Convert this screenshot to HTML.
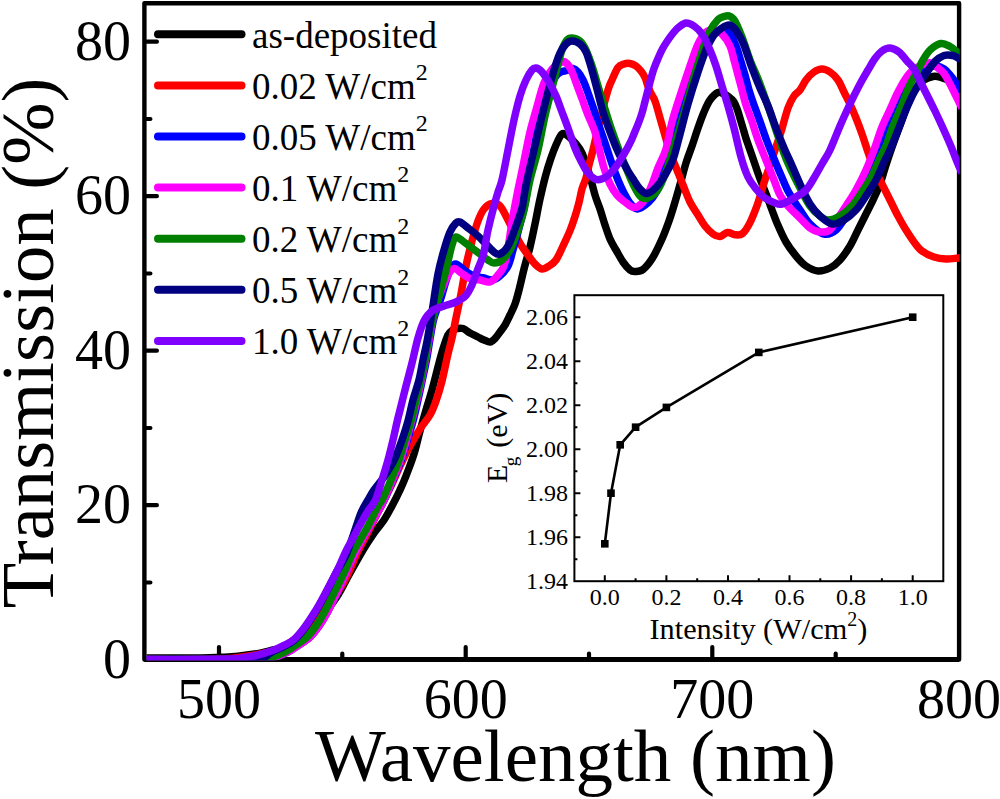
<!DOCTYPE html><html><head><meta charset="utf-8"><style>html,body{margin:0;padding:0;background:#fff;overflow:hidden;}svg{display:block;}</style></head><body>
<svg width="1000" height="799" viewBox="0 0 1000 799">
<rect width="1000" height="799" fill="#fff"/>
<rect x="144.4" y="3.3" width="814.7" height="656.3" fill="none" stroke="#000" stroke-width="4.4" stroke-linejoin="round"/>
<line x1="144.4" y1="659.6" x2="959.1" y2="659.6" stroke="#000" stroke-width="5"/>
<path d="M146.6 582.5H150.4M146.6 505.2H156.9M146.6 428.0H150.4M146.6 350.7H156.9M146.6 273.5H150.4M146.6 196.2H156.9M146.6 119.0H150.4M146.6 41.7H156.9M219.0 657.4V647.1M342.3 657.4V653.6M465.7 657.4V647.1M589.0 657.4V653.6M712.3 657.4V647.1M835.7 657.4V653.6" stroke="#000" stroke-width="4.2" stroke-linecap="round" fill="none"/>
<defs><clipPath id="pc"><rect x="146.6" y="0" width="813.1" height="660.3"/></clipPath></defs>
<g clip-path="url(#pc)">
<path d="M144.0 658.0C153.3 658.0 187.3 658.0 200.0 657.9C212.7 657.8 213.7 657.6 220.0 657.3C226.3 657.0 231.5 656.9 238.0 656.2C244.5 655.6 253.2 654.4 259.0 653.4C264.8 652.4 268.5 651.1 273.0 650.0C277.5 648.9 281.8 648.2 286.0 647.0C290.2 645.8 294.3 644.8 298.0 643.0C301.7 641.2 303.5 641.0 308.0 636.0C312.5 631.0 320.0 619.8 325.0 613.0C330.0 606.2 333.8 601.7 338.0 595.0C342.2 588.3 345.8 580.5 350.0 573.0C354.2 565.5 359.0 556.7 363.0 550.0C367.0 543.3 370.5 538.0 374.0 533.0C377.5 528.0 381.0 524.5 384.0 520.0C387.0 515.5 389.3 511.0 392.0 506.0C394.7 501.0 397.7 495.0 400.0 490.0C402.3 485.0 403.7 482.0 406.0 476.0C408.3 470.0 411.7 461.5 414.0 454.0C416.3 446.5 418.0 438.3 420.0 431.0C422.0 423.7 424.0 416.8 426.0 410.0C428.0 403.2 430.0 397.2 432.0 390.0C434.0 382.8 436.2 373.8 438.0 367.0C439.8 360.2 441.3 354.3 443.0 349.0C444.7 343.7 446.5 338.1 448.0 335.0C449.5 331.9 450.5 331.6 452.0 330.5C453.5 329.4 455.2 328.8 457.0 328.5C458.8 328.2 460.8 327.8 463.0 328.5C465.2 329.2 467.5 331.6 470.0 333.0C472.5 334.4 475.7 335.8 478.0 337.0C480.3 338.2 482.0 339.2 484.0 340.0C486.0 340.8 488.2 342.2 490.0 342.0C491.8 341.8 493.3 340.2 495.0 338.5C496.7 336.8 498.3 334.2 500.0 332.0C501.7 329.8 503.3 327.8 505.0 325.0C506.7 322.2 508.3 318.5 510.0 315.0C511.7 311.5 513.5 308.2 515.0 304.0C516.5 299.8 517.5 295.8 519.0 290.0C520.5 284.2 522.2 276.2 524.0 269.0C525.8 261.8 528.2 254.5 530.0 247.0C531.8 239.5 533.3 232.0 535.0 224.0C536.7 216.0 538.2 207.0 540.0 199.0C541.8 191.0 543.7 182.8 545.5 176.0C547.3 169.2 549.2 163.2 551.0 158.0C552.8 152.8 554.2 149.0 556.0 145.0C557.8 141.0 560.0 135.5 562.0 134.0C564.0 132.5 565.7 134.3 568.0 136.0C570.3 137.7 573.7 141.2 576.0 144.0C578.3 146.8 579.8 148.2 582.0 153.0C584.2 157.8 586.8 166.0 589.0 173.0C591.2 180.0 593.2 189.0 595.0 195.0C596.8 201.0 598.3 204.0 600.0 209.0C601.7 214.0 603.3 220.0 605.0 225.0C606.7 230.0 608.2 234.8 610.0 239.0C611.8 243.2 613.8 246.2 616.0 250.0C618.2 253.8 620.7 258.7 623.0 262.0C625.3 265.3 628.0 268.4 630.0 270.0C632.0 271.6 632.8 271.6 635.0 271.5C637.2 271.4 640.1 271.8 643.0 269.5C645.9 267.2 649.3 263.1 652.5 258.0C655.7 252.9 659.2 245.2 662.0 239.0C664.8 232.8 666.8 227.2 669.0 221.0C671.2 214.8 673.0 208.7 675.0 202.0C677.0 195.3 679.2 187.5 681.0 181.0C682.8 174.5 684.2 168.8 686.0 163.0C687.8 157.2 690.0 151.8 692.0 146.0C694.0 140.2 696.0 133.7 698.0 128.0C700.0 122.3 702.0 116.7 704.0 112.0C706.0 107.3 707.7 103.2 710.0 100.0C712.3 96.8 715.7 93.5 718.0 92.5C720.3 91.5 722.2 93.2 724.0 94.0C725.8 94.8 727.4 95.8 729.0 97.0C730.6 98.2 732.3 99.3 733.7 101.5C735.1 103.7 736.4 106.9 737.5 110.0C738.6 113.1 739.5 116.7 740.5 120.0C741.5 123.3 742.5 126.7 743.5 130.0C744.5 133.3 744.8 135.0 746.5 140.0C748.2 145.0 751.2 153.3 753.5 160.0C755.8 166.7 758.3 174.2 760.5 180.0C762.7 185.8 764.6 190.0 766.5 195.0C768.4 200.0 770.2 205.3 772.0 210.0C773.8 214.7 774.7 217.7 777.0 223.0C779.3 228.3 782.8 236.5 786.0 242.0C789.2 247.5 792.7 252.0 796.0 256.0C799.3 260.0 802.3 263.5 806.0 266.0C809.7 268.5 814.0 270.7 818.0 271.0C822.0 271.3 826.3 269.8 830.0 268.0C833.7 266.2 836.7 263.7 840.0 260.0C843.3 256.3 847.0 251.0 850.0 246.0C853.0 241.0 855.3 235.3 858.0 230.0C860.7 224.7 863.3 219.3 866.0 214.0C868.7 208.7 871.7 203.0 874.0 198.0C876.3 193.0 878.2 189.0 880.0 184.0C881.8 179.0 883.2 173.7 885.0 168.0C886.8 162.3 888.7 156.7 891.0 150.0C893.3 143.3 896.3 135.3 899.0 128.0C901.7 120.7 904.3 112.3 907.0 106.0C909.7 99.7 912.2 94.3 915.0 90.0C917.8 85.7 921.0 82.2 924.0 80.0C927.0 77.8 930.3 77.0 933.0 76.5C935.7 76.0 937.5 76.4 940.0 77.0C942.5 77.6 945.0 78.7 948.0 80.0C951.0 81.3 955.7 83.8 958.0 85.0C960.3 86.2 961.3 86.7 962.0 87.0" fill="none" stroke="#000000" stroke-width="7.5" stroke-linejoin="round" stroke-linecap="butt"/>
<path d="M144.0 659.6C153.3 659.6 186.5 659.7 200.0 659.6C213.5 659.5 218.3 659.2 225.0 658.8C231.7 658.4 235.5 657.8 240.0 657.3C244.5 656.8 247.8 656.2 252.0 655.5C256.2 654.8 260.3 654.2 265.0 653.0C269.7 651.8 275.0 650.8 280.0 648.5C285.0 646.2 290.0 643.1 295.0 639.0C300.0 634.9 305.3 629.2 310.0 624.0C314.7 618.8 318.8 612.7 323.0 608.0C327.2 603.3 331.2 601.0 335.0 596.0C338.8 591.0 342.2 585.3 346.0 578.0C349.8 570.7 354.3 559.0 357.6 552.0C360.9 545.0 363.6 540.7 366.0 536.0C368.4 531.3 369.3 529.3 372.0 524.0C374.7 518.7 378.7 510.7 382.0 504.0C385.3 497.3 388.8 490.7 392.0 484.0C395.2 477.3 398.0 470.3 401.0 464.0C404.0 457.7 406.8 451.8 410.0 446.0C413.2 440.2 416.7 434.2 420.0 429.0C423.3 423.8 427.3 419.7 430.0 415.0C432.7 410.3 434.0 406.7 436.0 401.0C438.0 395.3 440.0 388.8 442.0 381.0C444.0 373.2 446.3 361.2 448.0 354.0C449.7 346.8 450.7 344.0 452.0 338.0C453.3 332.0 454.5 325.3 456.0 318.0C457.5 310.7 459.3 302.7 461.0 294.0C462.7 285.3 464.2 274.8 466.0 266.0C467.8 257.2 470.0 248.5 472.0 241.0C474.0 233.5 476.0 226.3 478.0 221.0C480.0 215.7 481.7 211.9 484.0 209.0C486.3 206.1 489.3 204.0 492.0 203.5C494.7 203.0 497.5 203.6 500.0 206.0C502.5 208.4 504.7 213.7 507.0 218.0C509.3 222.3 511.7 227.5 514.0 232.0C516.3 236.5 518.7 241.2 521.0 245.0C523.3 248.8 525.7 251.8 528.0 255.0C530.3 258.2 532.7 261.7 535.0 264.0C537.3 266.3 539.7 268.7 542.0 269.0C544.3 269.3 546.7 267.5 549.0 266.0C551.3 264.5 553.7 263.3 556.0 260.0C558.3 256.7 560.7 250.9 563.0 246.0C565.3 241.1 568.0 235.5 570.0 230.6C572.0 225.7 573.5 221.2 575.0 216.5C576.5 211.8 577.8 207.1 579.0 202.5C580.2 197.9 580.8 193.1 582.0 189.0C583.2 184.9 584.8 182.0 586.0 178.0C587.2 174.0 587.8 169.7 589.0 165.0C590.2 160.3 591.2 157.5 593.0 150.0C594.8 142.5 597.5 130.0 600.0 120.0C602.5 110.0 606.0 96.7 608.0 90.0C610.0 83.3 610.3 83.8 612.0 80.0C613.7 76.2 616.0 70.2 618.0 67.5C620.0 64.8 622.0 64.7 624.0 64.0C626.0 63.3 628.0 63.2 630.0 63.5C632.0 63.8 634.2 64.8 636.0 66.0C637.8 67.2 639.5 69.1 641.0 71.0C642.5 72.9 643.9 75.2 645.0 77.5C646.1 79.8 646.6 82.5 647.5 85.0C648.4 87.5 649.2 89.8 650.5 92.5C651.8 95.2 653.4 96.8 655.0 101.0C656.6 105.2 658.2 111.7 660.0 118.0C661.8 124.3 664.2 132.8 666.0 139.0C667.8 145.2 669.2 149.8 671.0 155.0C672.8 160.2 675.0 165.0 677.0 170.0C679.0 175.0 680.8 179.7 683.0 185.0C685.2 190.3 687.5 197.0 690.0 202.0C692.5 207.0 695.5 211.0 698.0 215.0C700.5 219.0 702.5 222.8 705.0 226.0C707.5 229.2 710.5 232.2 713.0 234.0C715.5 235.8 717.6 236.8 720.0 236.6C722.4 236.3 725.1 232.8 727.6 232.5C730.1 232.2 732.5 234.5 735.0 234.7C737.5 234.9 740.1 235.5 742.6 233.5C745.1 231.5 747.5 227.5 750.0 222.6C752.5 217.7 755.4 210.1 757.6 204.0C759.8 197.9 761.1 192.0 763.0 186.0C764.9 180.0 767.0 174.0 769.0 168.0C771.0 162.0 773.0 156.0 775.0 150.0C777.0 144.0 778.8 139.0 781.0 132.0C783.2 125.0 785.8 114.0 788.0 108.0C790.2 102.0 792.0 99.0 794.0 96.0C796.0 93.0 798.0 92.7 800.0 90.0C802.0 87.3 803.7 83.0 806.0 80.0C808.3 77.0 811.3 73.8 814.0 72.0C816.7 70.2 819.3 69.0 822.0 69.0C824.7 69.0 827.3 70.2 830.0 72.0C832.7 73.8 835.7 76.7 838.0 80.0C840.3 83.3 842.0 88.0 844.0 92.0C846.0 96.0 848.0 99.7 850.0 104.0C852.0 108.3 854.0 113.0 856.0 118.0C858.0 123.0 860.0 128.3 862.0 134.0C864.0 139.7 866.0 146.3 868.0 152.0C870.0 157.7 871.7 162.7 874.0 168.0C876.3 173.3 879.3 178.7 882.0 184.0C884.7 189.3 887.3 194.7 890.0 200.0C892.7 205.3 895.3 211.0 898.0 216.0C900.7 221.0 903.3 225.7 906.0 230.0C908.7 234.3 911.3 238.5 914.0 242.0C916.7 245.5 918.7 248.5 922.0 251.0C925.3 253.5 930.0 255.7 934.0 257.0C938.0 258.3 942.0 258.8 946.0 259.0C950.0 259.2 955.3 258.2 958.0 258.0C960.7 257.8 961.3 257.8 962.0 257.7" fill="none" stroke="#ff0000" stroke-width="7.5" stroke-linejoin="round" stroke-linecap="butt"/>
<path d="M144.0 659.6C161.7 659.6 230.0 659.6 250.0 659.5C270.0 659.4 260.0 659.3 264.0 659.0C268.0 658.7 270.0 658.7 274.0 657.5C278.0 656.3 283.8 654.1 288.0 652.0C292.2 649.9 295.3 647.5 299.0 645.0C302.7 642.5 306.7 640.2 310.0 637.0C313.3 633.8 316.2 630.0 319.0 626.0C321.8 622.0 324.0 618.5 327.0 613.0C330.0 607.5 333.8 599.7 337.0 593.0C340.2 586.3 343.0 579.7 346.0 573.0C349.0 566.3 352.3 558.5 355.0 553.0C357.7 547.5 359.5 544.5 362.0 540.0C364.5 535.5 367.0 531.3 370.0 526.0C373.0 520.7 377.6 512.3 380.0 508.0C382.4 503.7 382.1 504.7 384.3 500.0C386.5 495.3 390.2 486.7 393.0 480.0C395.8 473.3 398.9 466.7 401.3 460.0C403.7 453.3 405.5 446.7 407.5 440.0C409.5 433.3 411.6 426.7 413.3 420.0C415.1 413.3 416.5 406.7 418.0 400.0C419.5 393.3 420.9 386.7 422.3 380.0C423.7 373.3 425.2 366.7 426.5 360.0C427.8 353.3 428.6 347.0 429.8 340.0C431.1 333.0 432.1 325.0 434.0 318.0C435.9 311.0 439.0 304.2 441.0 298.0C443.0 291.8 444.3 286.0 446.0 281.0C447.7 276.0 449.3 270.8 451.0 268.0C452.7 265.2 453.8 263.7 456.0 264.0C458.2 264.3 461.0 268.0 464.0 270.0C467.0 272.0 470.7 274.7 474.0 276.0C477.3 277.3 481.0 277.3 484.0 278.0C487.0 278.7 489.3 280.3 492.0 280.0C494.7 279.7 497.3 278.3 500.0 276.0C502.7 273.7 505.8 270.3 508.0 266.0C510.2 261.7 511.3 255.7 513.0 250.0C514.7 244.3 516.2 239.0 518.0 232.0C519.8 225.0 522.3 215.7 524.0 208.0C525.7 200.3 526.7 193.7 528.0 186.0C529.3 178.3 530.5 171.0 532.0 162.0C533.5 153.0 535.3 140.7 537.0 132.0C538.7 123.3 540.2 117.0 542.0 110.0C543.8 103.0 545.7 95.7 548.0 90.0C550.3 84.3 553.8 79.0 556.0 76.0C558.2 73.0 559.2 72.9 561.0 72.0C562.8 71.1 565.0 71.1 567.0 70.5C569.0 69.9 571.2 68.2 573.0 68.5C574.8 68.8 576.3 70.1 578.0 72.0C579.7 73.9 581.5 77.0 583.0 80.0C584.5 83.0 585.8 86.7 587.0 90.0C588.2 93.3 589.3 96.7 590.5 100.0C591.7 103.3 593.1 107.2 594.0 110.0C594.9 112.8 594.3 112.0 596.0 117.0C597.7 122.0 601.3 132.2 604.0 140.0C606.7 147.8 609.7 157.3 612.0 164.0C614.3 170.7 616.0 175.2 618.0 180.0C620.0 184.8 622.0 189.2 624.0 193.0C626.0 196.8 627.8 200.3 630.0 203.0C632.2 205.7 634.4 209.2 637.5 209.0C640.6 208.8 645.7 204.8 648.8 202.0C651.9 199.2 653.9 196.5 656.3 192.0C658.7 187.5 660.7 181.7 663.0 175.0C665.3 168.3 667.5 160.8 670.0 152.0C672.5 143.2 675.3 131.7 678.0 122.0C680.7 112.3 683.2 103.3 686.0 94.0C688.8 84.7 692.0 74.0 695.0 66.0C698.0 58.0 701.0 51.3 704.0 46.0C707.0 40.7 710.0 36.7 713.0 34.0C716.0 31.3 719.2 30.0 722.0 30.0C724.8 30.0 727.7 31.3 730.0 34.0C732.3 36.7 734.2 41.7 736.0 46.0C737.8 50.3 739.0 55.2 740.5 60.0C742.0 64.8 743.6 70.0 745.0 75.0C746.4 80.0 747.5 85.0 749.0 90.0C750.5 95.0 752.2 100.0 754.0 105.0C755.8 110.0 757.4 114.2 759.5 120.0C761.6 125.8 764.0 133.3 766.5 140.0C769.0 146.7 771.8 153.3 774.5 160.0C777.2 166.7 780.8 174.8 783.0 180.0C785.2 185.2 786.2 187.5 788.0 191.0C789.8 194.5 792.0 197.8 794.0 201.0C796.0 204.2 797.3 206.2 800.0 210.0C802.7 213.8 806.0 220.0 810.0 224.0C814.0 228.0 819.7 233.0 824.0 234.0C828.3 235.0 832.3 233.0 836.0 230.0C839.7 227.0 842.7 221.3 846.0 216.0C849.3 210.7 852.7 204.7 856.0 198.0C859.3 191.3 862.7 183.7 866.0 176.0C869.3 168.3 872.7 160.0 876.0 152.0C879.3 144.0 882.7 136.0 886.0 128.0C889.3 120.0 892.7 111.0 896.0 104.0C899.3 97.0 902.7 91.0 906.0 86.0C909.3 81.0 912.7 77.0 916.0 74.0C919.3 71.0 922.7 69.3 926.0 68.0C929.3 66.7 933.0 65.8 936.0 66.0C939.0 66.2 941.7 67.5 944.0 69.0C946.3 70.5 948.0 72.7 950.0 75.0C952.0 77.3 954.5 80.8 956.0 83.0C957.5 85.2 958.0 86.3 959.0 88.0C960.0 89.7 961.5 92.2 962.0 93.0" fill="none" stroke="#0000ff" stroke-width="7.5" stroke-linejoin="round" stroke-linecap="butt"/>
<path d="M144.0 659.6C161.7 659.6 230.0 659.6 250.0 659.5C270.0 659.4 260.0 659.3 264.0 659.0C268.0 658.7 270.0 658.7 274.0 657.5C278.0 656.3 283.8 654.1 288.0 652.0C292.2 649.9 295.3 647.5 299.0 645.0C302.7 642.5 306.7 640.2 310.0 637.0C313.3 633.8 316.2 630.0 319.0 626.0C321.8 622.0 324.0 618.5 327.0 613.0C330.0 607.5 333.8 599.7 337.0 593.0C340.2 586.3 343.0 579.7 346.0 573.0C349.0 566.3 352.3 558.5 355.0 553.0C357.7 547.5 359.5 544.5 362.0 540.0C364.5 535.5 367.0 531.3 370.0 526.0C373.0 520.7 377.7 512.3 380.0 508.0C382.3 503.7 381.9 504.7 384.0 500.0C386.1 495.3 389.8 486.7 392.5 480.0C395.2 473.3 398.2 466.7 400.5 460.0C402.8 453.3 404.6 446.7 406.5 440.0C408.4 433.3 410.2 426.7 412.0 420.0C413.8 413.3 415.4 406.7 417.0 400.0C418.6 393.3 420.1 386.7 421.5 380.0C422.9 373.3 424.2 366.7 425.5 360.0C426.8 353.3 427.8 347.0 429.0 340.0C430.2 333.0 431.7 324.3 433.0 318.0C434.3 311.7 435.5 306.8 437.0 302.0C438.5 297.2 440.3 293.2 442.0 289.0C443.7 284.8 445.5 280.1 447.0 277.0C448.5 273.9 449.7 271.9 451.0 270.5C452.3 269.1 453.2 268.0 455.0 268.5C456.8 269.0 459.5 271.8 462.0 273.5C464.5 275.2 467.0 277.4 470.0 278.5C473.0 279.6 476.7 279.4 480.0 280.0C483.3 280.6 487.0 282.8 490.0 282.0C493.0 281.2 495.7 277.7 498.0 275.0C500.3 272.3 502.3 270.5 504.0 266.0C505.7 261.5 506.7 255.3 508.0 248.0C509.3 240.7 510.7 230.0 512.0 222.0C513.3 214.0 514.8 206.2 516.0 200.0C517.2 193.8 517.8 190.7 519.0 185.0C520.2 179.3 521.7 172.5 523.0 166.0C524.3 159.5 525.7 152.3 527.0 146.0C528.3 139.7 529.5 134.0 531.0 128.0C532.5 122.0 533.8 117.5 536.0 110.0C538.2 102.5 541.3 89.8 544.0 83.0C546.7 76.2 549.3 72.3 552.0 69.0C554.7 65.7 557.8 64.2 560.0 63.0C562.2 61.8 563.2 60.9 565.0 62.0C566.8 63.1 569.1 65.8 571.0 69.5C572.9 73.2 574.6 78.9 576.5 84.0C578.4 89.1 580.6 94.8 582.5 100.0C584.4 105.2 585.9 109.7 588.0 115.0C590.1 120.3 593.2 126.5 595.0 132.0C596.8 137.5 597.5 142.0 599.0 148.0C600.5 154.0 602.2 162.0 604.0 168.0C605.8 174.0 607.8 179.5 610.0 184.0C612.2 188.5 614.5 192.0 617.0 195.0C619.5 198.0 622.2 199.9 625.0 202.0C627.8 204.1 631.0 207.5 634.0 207.5C637.0 207.5 640.2 205.4 643.0 202.0C645.8 198.6 648.5 192.7 651.0 187.0C653.5 181.3 655.5 174.3 658.0 168.0C660.5 161.7 663.7 156.7 666.0 149.0C668.3 141.3 669.7 130.8 672.0 122.0C674.3 113.2 677.0 105.3 680.0 96.0C683.0 86.7 687.0 74.7 690.0 66.0C693.0 57.3 695.3 49.7 698.0 44.0C700.7 38.3 703.3 34.3 706.0 32.0C708.7 29.7 711.3 29.7 714.0 30.0C716.7 30.3 719.3 31.3 722.0 34.0C724.7 36.7 728.0 41.7 730.0 46.0C732.0 50.3 732.7 55.2 734.0 60.0C735.3 64.8 736.7 70.0 738.0 75.0C739.3 80.0 740.7 85.0 742.0 90.0C743.3 95.0 744.4 100.0 746.0 105.0C747.6 110.0 749.5 114.2 751.5 120.0C753.5 125.8 755.6 133.3 758.0 140.0C760.4 146.7 763.3 153.3 766.0 160.0C768.7 166.7 771.7 174.2 774.0 180.0C776.3 185.8 777.7 190.7 780.0 195.0C782.3 199.3 785.0 202.5 788.0 206.0C791.0 209.5 794.3 212.3 798.0 216.0C801.7 219.7 806.3 225.3 810.0 228.0C813.7 230.7 816.7 231.7 820.0 232.0C823.3 232.3 827.0 232.3 830.0 230.0C833.0 227.7 835.3 222.0 838.0 218.0C840.7 214.0 843.0 210.7 846.0 206.0C849.0 201.3 852.7 196.0 856.0 190.0C859.3 184.0 863.0 176.7 866.0 170.0C869.0 163.3 871.3 157.2 874.0 150.0C876.7 142.8 879.3 133.7 882.0 127.0C884.7 120.3 887.4 115.3 890.0 109.6C892.6 103.9 895.0 98.0 897.5 93.0C900.0 88.0 902.5 83.2 905.0 79.5C907.5 75.8 909.5 73.0 912.5 70.5C915.5 68.0 920.0 65.8 923.0 64.5C926.0 63.2 928.1 62.4 930.6 63.0C933.1 63.6 935.8 66.2 938.0 68.0C940.2 69.8 942.0 70.8 944.0 73.5C946.0 76.2 948.0 80.2 950.0 84.0C952.0 87.8 954.5 93.0 956.0 96.0C957.5 99.0 958.0 100.0 959.0 102.0C960.0 104.0 961.5 107.0 962.0 108.0" fill="none" stroke="#ff00ff" stroke-width="7.5" stroke-linejoin="round" stroke-linecap="butt"/>
<path d="M144.0 659.6C161.7 659.6 230.3 659.6 250.0 659.5C269.7 659.4 258.3 659.3 262.0 659.0C265.7 658.7 268.2 658.7 272.0 657.5C275.8 656.3 281.0 654.1 285.0 652.0C289.0 649.9 292.3 647.5 296.0 645.0C299.7 642.5 303.7 640.2 307.0 637.0C310.3 633.8 313.2 630.0 316.0 626.0C318.8 622.0 321.0 618.5 324.0 613.0C327.0 607.5 330.7 599.7 334.0 593.0C337.3 586.3 340.8 579.8 344.0 573.0C347.2 566.2 350.3 557.5 353.0 552.0C355.7 546.5 357.5 544.3 360.0 540.0C362.5 535.7 365.0 531.7 368.0 526.0C371.0 520.3 375.7 510.3 378.0 506.0C380.3 501.7 379.8 504.3 382.0 500.0C384.2 495.7 388.2 486.7 391.0 480.0C393.8 473.3 396.7 466.7 399.0 460.0C401.3 453.3 402.9 446.7 405.0 440.0C407.1 433.3 409.5 426.7 411.3 420.0C413.1 413.3 414.4 406.7 416.0 400.0C417.6 393.3 419.3 386.7 420.8 380.0C422.3 373.3 423.8 366.7 425.0 360.0C426.2 353.3 427.0 347.0 428.3 340.0C429.6 333.0 431.4 324.7 433.0 318.0C434.6 311.3 436.5 305.5 438.0 300.0C439.5 294.5 440.7 290.0 442.0 285.0C443.3 280.0 444.3 276.7 446.0 270.0C447.7 263.3 450.3 250.5 452.0 245.0C453.7 239.5 454.0 237.5 456.0 237.0C458.0 236.5 461.3 240.2 464.0 242.0C466.7 243.8 469.3 246.0 472.0 248.0C474.7 250.0 477.3 252.0 480.0 254.0C482.7 256.0 485.7 258.5 488.0 260.0C490.3 261.5 491.7 263.0 494.0 263.0C496.3 263.0 499.3 262.2 502.0 260.0C504.7 257.8 507.3 255.0 510.0 250.0C512.7 245.0 515.7 236.7 518.0 230.0C520.3 223.3 522.0 218.3 524.0 210.0C526.0 201.7 527.7 190.0 530.0 180.0C532.3 170.0 535.5 160.7 538.0 150.0C540.5 139.3 542.8 125.7 545.0 116.0C547.2 106.3 549.0 100.0 551.0 92.0C553.0 84.0 555.2 75.0 557.0 68.0C558.8 61.0 560.3 54.7 562.0 50.0C563.7 45.3 565.3 42.0 567.0 40.0C568.7 38.0 569.8 37.8 572.0 38.0C574.2 38.2 577.7 39.0 580.0 41.0C582.3 43.0 584.0 45.8 586.0 50.0C588.0 54.2 590.0 60.0 592.0 66.0C594.0 72.0 596.0 79.3 598.0 86.0C600.0 92.7 601.8 99.0 604.0 106.0C606.2 113.0 608.5 120.7 611.0 128.0C613.5 135.3 616.3 143.0 619.0 150.0C621.7 157.0 624.5 164.0 627.0 170.0C629.5 176.0 631.7 181.5 634.0 186.0C636.3 190.5 638.7 195.0 641.0 197.0C643.3 199.0 645.3 199.0 648.0 198.0C650.7 197.0 654.3 194.5 657.0 191.0C659.7 187.5 661.8 182.2 664.0 177.0C666.2 171.8 668.0 166.2 670.0 160.0C672.0 153.8 674.0 146.7 676.0 140.0C678.0 133.3 679.3 129.3 682.0 120.0C684.7 110.7 688.7 95.3 692.0 84.0C695.3 72.7 699.0 60.8 702.0 52.0C705.0 43.2 707.3 36.4 710.0 31.0C712.7 25.6 715.7 21.9 718.0 19.5C720.3 17.1 722.2 17.1 724.0 16.5C725.8 15.9 727.4 15.4 729.0 15.8C730.6 16.2 732.2 17.5 733.5 19.0C734.8 20.5 735.6 22.0 737.0 25.0C738.4 28.0 739.8 31.2 742.0 37.0C744.2 42.8 747.0 52.2 750.0 60.0C753.0 67.8 756.7 75.3 760.0 84.0C763.3 92.7 767.0 103.3 770.0 112.0C773.0 120.7 775.5 128.7 778.0 136.0C780.5 143.3 782.7 150.0 785.0 156.0C787.3 162.0 789.5 166.7 792.0 172.0C794.5 177.3 797.0 182.3 800.0 188.0C803.0 193.7 806.7 201.3 810.0 206.0C813.3 210.7 817.0 213.7 820.0 216.0C823.0 218.3 824.7 220.0 828.0 220.0C831.3 220.0 836.0 218.3 840.0 216.0C844.0 213.7 848.3 210.0 852.0 206.0C855.7 202.0 858.7 197.0 862.0 192.0C865.3 187.0 869.0 181.7 872.0 176.0C875.0 170.3 877.7 163.0 880.0 158.0C882.3 153.0 883.8 151.3 886.0 146.0C888.2 140.7 890.3 132.8 893.0 126.0C895.7 119.2 899.2 111.7 902.0 105.0C904.8 98.3 907.0 91.1 909.5 85.6C912.0 80.1 914.8 76.3 917.0 72.0C919.2 67.7 920.7 63.8 923.0 60.0C925.3 56.2 927.6 52.2 930.6 49.5C933.6 46.8 937.8 44.0 941.0 43.5C944.2 43.0 947.2 45.0 950.0 46.5C952.8 48.0 955.6 50.9 957.6 52.5C959.6 54.1 961.3 55.4 962.0 56.0" fill="none" stroke="#008000" stroke-width="7.5" stroke-linejoin="round" stroke-linecap="butt"/>
<path d="M144.0 659.6C161.7 659.6 230.3 659.7 250.0 659.5C269.7 659.3 258.3 659.8 262.0 658.5C265.7 657.2 268.3 654.0 272.0 652.0C275.7 650.0 280.3 648.4 284.0 646.5C287.7 644.6 290.7 643.4 294.0 640.5C297.3 637.6 300.3 633.9 304.0 629.0C307.7 624.1 312.3 617.0 316.0 611.0C319.7 605.0 322.7 599.3 326.0 593.0C329.3 586.7 332.7 579.3 336.0 573.0C339.3 566.7 343.0 561.7 346.0 555.0C349.0 548.3 351.5 540.0 354.0 533.0C356.5 526.0 358.7 518.5 361.0 513.0C363.3 507.5 365.8 503.8 368.0 500.0C370.2 496.2 371.3 493.8 374.0 490.0C376.7 486.2 381.2 481.0 384.0 477.0C386.8 473.0 389.0 469.5 391.0 466.0C393.0 462.5 394.2 460.3 396.0 456.0C397.8 451.7 400.0 445.8 402.0 440.0C404.0 434.2 406.2 427.7 408.0 421.0C409.8 414.3 411.2 406.8 413.0 400.0C414.8 393.2 417.3 386.7 419.0 380.0C420.7 373.3 421.6 366.7 423.0 360.0C424.4 353.3 425.8 348.0 427.3 340.0C428.8 332.0 430.2 323.0 432.0 312.0C433.8 301.0 436.0 284.3 438.0 274.0C440.0 263.7 442.0 257.0 444.0 250.0C446.0 243.0 448.0 236.5 450.0 232.0C452.0 227.5 454.3 224.7 456.0 223.0C457.7 221.3 458.0 221.2 460.0 222.0C462.0 222.8 465.0 225.7 468.0 228.0C471.0 230.3 475.0 233.3 478.0 236.0C481.0 238.7 483.3 241.3 486.0 244.0C488.7 246.7 491.7 250.3 494.0 252.0C496.3 253.7 497.7 255.0 500.0 254.0C502.3 253.0 505.3 250.7 508.0 246.0C510.7 241.3 513.7 232.3 516.0 226.0C518.3 219.7 520.3 214.8 522.0 208.0C523.7 201.2 524.0 194.7 526.0 185.0C528.0 175.3 531.3 161.5 534.0 150.0C536.7 138.5 539.7 125.7 542.0 116.0C544.3 106.3 546.0 99.7 548.0 92.0C550.0 84.3 552.0 76.5 554.0 70.0C556.0 63.5 558.0 57.3 560.0 53.0C562.0 48.7 564.0 46.0 566.0 44.0C568.0 42.0 569.7 41.0 572.0 41.0C574.3 41.0 577.7 42.2 580.0 44.0C582.3 45.8 584.2 48.2 586.0 52.0C587.8 55.8 589.2 60.8 591.0 67.0C592.8 73.2 595.0 81.5 597.0 89.0C599.0 96.5 600.9 105.1 603.0 112.0C605.1 118.9 607.4 124.8 609.5 130.5C611.6 136.2 613.5 141.2 615.5 146.0C617.5 150.8 619.5 155.0 621.5 159.0C623.5 163.0 625.5 166.5 627.5 170.0C629.5 173.5 631.7 176.8 633.8 180.0C635.9 183.2 637.8 186.8 640.0 189.0C642.2 191.2 644.2 193.8 646.9 193.5C649.6 193.2 653.2 190.3 656.3 187.0C659.4 183.7 662.9 178.5 665.7 173.8C668.5 169.1 671.0 164.8 673.2 158.8C675.4 152.8 676.5 147.1 679.0 138.0C681.5 128.9 684.8 115.0 688.0 104.0C691.2 93.0 695.0 81.0 698.0 72.0C701.0 63.0 703.3 56.2 706.0 50.0C708.7 43.8 711.3 38.7 714.0 35.0C716.7 31.3 719.5 29.7 722.0 28.0C724.5 26.3 727.0 25.0 729.0 25.0C731.0 25.0 732.3 26.3 734.0 28.0C735.7 29.7 737.3 32.2 739.0 35.0C740.7 37.8 741.8 39.5 744.0 45.0C746.2 50.5 749.3 60.8 752.0 68.0C754.7 75.2 757.3 81.7 760.0 88.0C762.7 94.3 765.3 99.3 768.0 106.0C770.7 112.7 773.3 121.0 776.0 128.0C778.7 135.0 781.7 142.5 784.0 148.0C786.3 153.5 787.3 155.0 790.0 161.0C792.7 167.0 796.7 176.8 800.0 184.0C803.3 191.2 806.7 198.7 810.0 204.0C813.3 209.3 816.3 212.7 820.0 216.0C823.7 219.3 828.0 223.3 832.0 224.0C836.0 224.7 840.0 222.3 844.0 220.0C848.0 217.7 852.3 214.0 856.0 210.0C859.7 206.0 862.7 201.0 866.0 196.0C869.3 191.0 873.0 185.7 876.0 180.0C879.0 174.3 881.7 167.0 884.0 162.0C886.3 157.0 887.5 155.7 890.0 150.0C892.5 144.3 896.0 135.1 899.0 127.6C902.0 120.1 905.0 111.8 908.0 105.0C911.0 98.2 914.0 92.2 917.0 87.0C920.0 81.8 923.0 77.8 926.0 73.5C929.0 69.2 932.0 64.5 935.0 61.5C938.0 58.5 941.0 56.5 944.0 55.5C947.0 54.5 950.5 55.0 953.0 55.5C955.5 56.0 957.5 57.8 959.0 58.5C960.5 59.2 961.5 59.8 962.0 60.0" fill="none" stroke="#000080" stroke-width="7.5" stroke-linejoin="round" stroke-linecap="butt"/>
<path d="M144.0 659.6C153.3 659.6 187.0 659.7 200.0 659.6C213.0 659.5 215.3 659.5 222.0 659.3C228.7 659.1 234.3 658.8 240.0 658.2C245.7 657.6 250.7 656.8 256.0 655.5C261.3 654.2 267.3 652.4 272.0 650.7C276.7 649.0 280.3 647.2 284.0 645.3C287.7 643.4 290.7 642.4 294.0 639.5C297.3 636.6 300.3 632.9 304.0 628.0C307.7 623.1 312.3 616.0 316.0 610.0C319.7 604.0 322.5 598.5 326.0 592.0C329.5 585.5 333.7 577.8 337.0 571.0C340.3 564.2 343.5 556.2 346.0 551.0C348.5 545.8 349.7 544.3 352.0 540.0C354.3 535.7 357.3 529.8 360.0 525.0C362.7 520.2 365.4 515.2 368.0 511.0C370.6 506.8 373.2 505.2 375.5 500.0C377.8 494.8 379.9 486.7 382.0 480.0C384.1 473.3 386.2 466.7 388.0 460.0C389.8 453.3 391.4 446.7 393.0 440.0C394.6 433.3 396.3 425.0 397.5 420.0C398.7 415.0 398.6 415.7 400.0 410.0C401.4 404.3 404.0 393.8 406.0 386.0C408.0 378.2 410.0 371.0 412.0 363.0C414.0 355.0 416.0 345.0 418.0 338.0C420.0 331.0 421.7 325.5 424.0 321.0C426.3 316.5 428.7 313.5 432.0 311.0C435.3 308.5 440.0 307.5 444.0 306.0C448.0 304.5 452.4 303.7 456.0 302.0C459.6 300.3 462.9 298.7 465.5 296.0C468.1 293.3 469.5 290.3 471.5 286.0C473.5 281.7 475.5 275.3 477.5 270.0C479.5 264.7 481.8 260.7 483.5 254.0C485.2 247.3 486.2 238.0 488.0 230.0C489.8 222.0 492.3 212.3 494.0 206.0C495.7 199.7 496.7 196.3 498.0 192.0C499.3 187.7 500.3 187.0 502.0 180.0C503.7 173.0 506.0 160.0 508.0 150.0C510.0 140.0 512.0 129.0 514.0 120.0C516.0 111.0 518.0 102.7 520.0 96.0C522.0 89.3 524.0 84.3 526.0 80.0C528.0 75.7 530.3 72.0 532.0 70.0C533.7 68.0 534.3 67.7 536.0 68.0C537.7 68.3 539.7 69.3 542.0 72.0C544.3 74.7 547.7 80.0 550.0 84.0C552.3 88.0 554.0 91.3 556.0 96.0C558.0 100.7 560.0 106.7 562.0 112.0C564.0 117.3 565.8 122.0 568.0 128.0C570.2 134.0 572.8 142.5 575.0 148.0C577.2 153.5 578.8 156.8 581.0 161.0C583.2 165.2 585.5 169.9 588.0 173.0C590.5 176.1 593.5 178.6 596.0 179.5C598.5 180.4 600.8 179.3 603.0 178.5C605.2 177.7 607.0 176.2 609.0 174.5C611.0 172.8 613.2 170.3 615.0 168.0C616.8 165.7 618.5 162.8 620.0 160.5C621.5 158.2 622.7 156.2 624.0 154.0C625.3 151.8 626.8 149.3 628.0 147.0C629.2 144.7 630.3 142.6 631.5 140.0C632.7 137.4 633.8 134.3 635.0 131.5C636.2 128.7 637.3 126.1 638.5 123.0C639.7 119.9 640.9 116.6 642.0 113.0C643.1 109.4 644.0 105.3 645.0 101.5C646.0 97.7 647.0 93.8 648.0 90.0C649.0 86.2 650.0 82.1 651.0 78.5C652.0 74.9 652.8 71.8 654.0 68.5C655.2 65.2 656.6 61.8 658.0 58.5C659.4 55.2 660.7 52.1 662.4 49.0C664.1 45.9 666.1 42.8 668.0 40.0C669.9 37.2 672.2 34.2 674.0 32.0C675.8 29.8 677.0 28.5 679.0 27.0C681.0 25.5 683.5 23.2 686.0 23.0C688.5 22.8 691.3 24.2 694.0 26.0C696.7 27.8 699.3 30.0 702.0 34.0C704.7 38.0 707.7 44.7 710.0 50.0C712.3 55.3 714.0 60.0 716.0 66.0C718.0 72.0 720.0 79.3 722.0 86.0C724.0 92.7 726.0 99.0 728.0 106.0C730.0 113.0 731.8 119.5 734.0 128.0C736.2 136.5 738.7 148.8 741.0 157.0C743.3 165.2 745.5 171.7 748.0 177.0C750.5 182.3 753.2 185.5 756.0 189.0C758.8 192.5 761.8 195.7 765.0 198.0C768.2 200.3 772.2 202.0 775.0 203.0C777.8 204.0 778.8 204.8 782.0 204.0C785.2 203.2 790.0 200.3 794.0 198.0C798.0 195.7 802.7 193.3 806.0 190.0C809.3 186.7 811.3 182.3 814.0 178.0C816.7 173.7 819.3 168.7 822.0 164.0C824.7 159.3 827.0 156.3 830.0 150.0C833.0 143.7 836.7 133.7 840.0 126.0C843.3 118.3 846.7 111.0 850.0 104.0C853.3 97.0 857.0 89.7 860.0 84.0C863.0 78.3 865.5 74.2 868.0 70.0C870.5 65.8 872.7 61.7 875.0 58.5C877.3 55.3 879.5 52.8 882.0 51.0C884.5 49.2 887.2 47.8 890.0 48.0C892.8 48.2 896.2 49.8 899.0 52.0C901.8 54.2 904.5 58.2 907.0 61.0C909.5 63.8 911.7 65.3 914.0 69.0C916.3 72.7 918.7 78.3 921.0 83.0C923.3 87.7 925.7 92.3 928.0 97.0C930.3 101.7 932.7 106.2 935.0 111.0C937.3 115.8 939.5 120.5 942.0 126.0C944.5 131.5 947.3 137.7 950.0 144.0C952.7 150.3 956.0 159.2 958.0 164.0C960.0 168.8 961.3 171.5 962.0 173.0" fill="none" stroke="#8000ff" stroke-width="7.5" stroke-linejoin="round" stroke-linecap="butt"/>
</g>
<text x="131" y="677.7" font-family="Liberation Serif" font-size="56" text-anchor="end">0</text>
<text x="131" y="523.2" font-family="Liberation Serif" font-size="56" text-anchor="end">20</text>
<text x="131" y="368.7" font-family="Liberation Serif" font-size="56" text-anchor="end">40</text>
<text x="131" y="214.2" font-family="Liberation Serif" font-size="56" text-anchor="end">60</text>
<text x="131" y="59.7" font-family="Liberation Serif" font-size="56" text-anchor="end">80</text>
<text x="219.0" y="718" font-family="Liberation Serif" font-size="56" text-anchor="middle">500</text>
<text x="465.7" y="718" font-family="Liberation Serif" font-size="56" text-anchor="middle">600</text>
<text x="712.3" y="718" font-family="Liberation Serif" font-size="56" text-anchor="middle">700</text>
<text x="959.0" y="718" font-family="Liberation Serif" font-size="56" text-anchor="middle">800</text>
<text x="315" y="781" font-family="Liberation Serif" font-size="75">Wavelength (nm)</text>
<text transform="translate(53 608.2) rotate(-90)" x="0" y="0" font-family="Liberation Serif" font-size="74.7">Transmission (%)</text>
<line x1="158" y1="34.3" x2="241.5" y2="34.3" stroke="#000000" stroke-width="8" stroke-linecap="round"/>
<text x="252" y="47.6" font-family="Liberation Serif" font-size="37">as-deposited</text>
<line x1="158" y1="85.4" x2="241.5" y2="85.4" stroke="#ff0000" stroke-width="8" stroke-linecap="round"/>
<text x="252" y="98.7" font-family="Liberation Serif" font-size="37">0.02 W/cm<tspan font-size="24" dy="-18.5">2</tspan></text>
<line x1="158" y1="136.5" x2="241.5" y2="136.5" stroke="#0000ff" stroke-width="8" stroke-linecap="round"/>
<text x="252" y="149.8" font-family="Liberation Serif" font-size="37">0.05 W/cm<tspan font-size="24" dy="-18.5">2</tspan></text>
<line x1="158" y1="187.6" x2="241.5" y2="187.6" stroke="#ff00ff" stroke-width="8" stroke-linecap="round"/>
<text x="252" y="200.9" font-family="Liberation Serif" font-size="37">0.1 W/cm<tspan font-size="24" dy="-18.5">2</tspan></text>
<line x1="158" y1="238.7" x2="241.5" y2="238.7" stroke="#008000" stroke-width="8" stroke-linecap="round"/>
<text x="252" y="252.0" font-family="Liberation Serif" font-size="37">0.2 W/cm<tspan font-size="24" dy="-18.5">2</tspan></text>
<line x1="158" y1="289.8" x2="241.5" y2="289.8" stroke="#000080" stroke-width="8" stroke-linecap="round"/>
<text x="252" y="303.1" font-family="Liberation Serif" font-size="37">0.5 W/cm<tspan font-size="24" dy="-18.5">2</tspan></text>
<line x1="158" y1="340.9" x2="241.5" y2="340.9" stroke="#8000ff" stroke-width="8" stroke-linecap="round"/>
<text x="252" y="354.2" font-family="Liberation Serif" font-size="37">1.0 W/cm<tspan font-size="24" dy="-18.5">2</tspan></text>
<rect x="574.4" y="295.2" width="368.9" height="286" fill="none" stroke="#000" stroke-width="2"/>
<path d="M574.4 559.2H577.4M574.4 537.2H580.4M574.4 515.2H577.4M574.4 493.2H580.4M574.4 471.2H577.4M574.4 449.2H580.4M574.4 427.2H577.4M574.4 405.2H580.4M574.4 383.2H577.4M574.4 361.2H580.4M574.4 339.2H577.4M574.4 317.2H580.4M604.8 581.2V575.2M635.6 581.2V578.2M666.4 581.2V575.2M697.2 581.2V578.2M728.0 581.2V575.2M758.8 581.2V578.2M789.5 581.2V575.2M820.3 581.2V578.2M851.1 581.2V575.2M881.9 581.2V578.2M912.7 581.2V575.2" stroke="#000" stroke-width="2" fill="none"/>
<text x="568" y="589.0" font-family="Liberation Serif" font-size="24" text-anchor="end">1.94</text>
<text x="568" y="545.0" font-family="Liberation Serif" font-size="24" text-anchor="end">1.96</text>
<text x="568" y="501.0" font-family="Liberation Serif" font-size="24" text-anchor="end">1.98</text>
<text x="568" y="457.0" font-family="Liberation Serif" font-size="24" text-anchor="end">2.00</text>
<text x="568" y="413.0" font-family="Liberation Serif" font-size="24" text-anchor="end">2.02</text>
<text x="568" y="369.0" font-family="Liberation Serif" font-size="24" text-anchor="end">2.04</text>
<text x="568" y="325.0" font-family="Liberation Serif" font-size="24" text-anchor="end">2.06</text>
<text x="604.8" y="604.5" font-family="Liberation Serif" font-size="24" text-anchor="middle">0.0</text>
<text x="666.4" y="604.5" font-family="Liberation Serif" font-size="24" text-anchor="middle">0.2</text>
<text x="728.0" y="604.5" font-family="Liberation Serif" font-size="24" text-anchor="middle">0.4</text>
<text x="789.5" y="604.5" font-family="Liberation Serif" font-size="24" text-anchor="middle">0.6</text>
<text x="851.1" y="604.5" font-family="Liberation Serif" font-size="24" text-anchor="middle">0.8</text>
<text x="912.7" y="604.5" font-family="Liberation Serif" font-size="24" text-anchor="middle">1.0</text>
<polyline points="604.8,543.8 611.0,493.2 620.2,444.8 635.6,427.2 666.4,407.4 758.8,352.4 912.7,317.2" fill="none" stroke="#000" stroke-width="2.6" stroke-linejoin="round"/>
<rect x="601.0" y="540.0" width="7.6" height="7.6" fill="#000"/>
<rect x="607.2" y="489.4" width="7.6" height="7.6" fill="#000"/>
<rect x="616.4" y="441.0" width="7.6" height="7.6" fill="#000"/>
<rect x="631.8" y="423.4" width="7.6" height="7.6" fill="#000"/>
<rect x="662.6" y="403.6" width="7.6" height="7.6" fill="#000"/>
<rect x="755.0" y="348.6" width="7.6" height="7.6" fill="#000"/>
<rect x="908.9" y="313.4" width="7.6" height="7.6" fill="#000"/>
<text x="649.5" y="638.6" font-family="Liberation Serif" font-size="30.3">Intensity (W/cm<tspan font-size="20" dy="-13">2</tspan><tspan dy="13">)</tspan></text>
<text transform="translate(507 483) rotate(-90)" x="0" y="0" font-family="Liberation Serif" font-size="30">E<tspan font-size="19" dx="-1.5" dy="9.8">g</tspan><tspan dx="1.5" dy="-9.8"> (eV)</tspan></text>
</svg></body></html>
